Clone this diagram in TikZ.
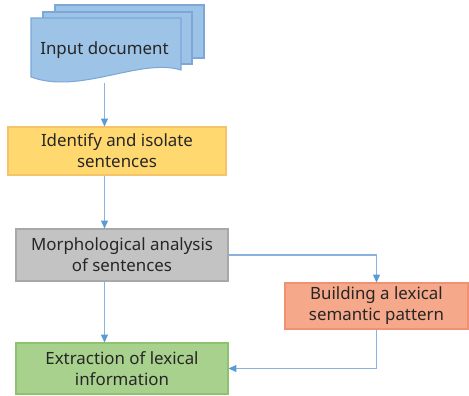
\documentclass[tikz,border=0pt]{standalone}
\usepackage{fontspec}
\setmainfont{Noto Sans}
\usepackage{tikz}
\usetikzlibrary{
	arrows.meta,
	calc,
	positioning,
}
\definecolor{docfill}{HTML}{9DC3E6}
\definecolor{docline}{HTML}{7BA7D9}
\definecolor{isofill}{HTML}{FFD870}
\definecolor{isoline}{HTML}{F5C36A}
\definecolor{morphfill}{HTML}{C3C3C3}
\definecolor{morphline}{HTML}{A8A8A8}
\definecolor{patfill}{HTML}{F6A88A}
\definecolor{patline}{HTML}{F09272}
\definecolor{extfill}{HTML}{A9D18E}
\definecolor{extline}{HTML}{8DC26F}
\definecolor{linkblue}{HTML}{8AB2DC}
\definecolor{tipblue}{HTML}{5B9BD5}
\tikzset{flow box/.style={
	draw,
	rectangle,
	align=center,
	inner sep=0mm,
	line width=0.6pt,
	font=\fontsize{9.6}{12}\selectfont,
	text=black!85,
}}
\tikzset{page/.style={
	fill=docfill,
	draw=docline,
	line width=0.6pt,
}}
\tikzset{flow line/.style={
	draw=linkblue,
	line width=0.6pt,
	-{Triangle[length=4.5pt,width=4pt,color=tipblue]},
}}

\begin{document}
\begin{tikzpicture}

\useasboundingbox (0,0) rectangle (9.38,-7.9);

% pages of the input document
\path[page] (1.10,-0.10) rectangle (4.08,-1.16);
\path[page] (0.86,-0.24) rectangle (3.84,-1.28);
\path[page] (0.62,-0.36) -- (3.62,-0.36) -- (3.62,-1.40)
	.. controls (2.8,-1.15) and (1.6,-1.9) .. (0.62,-1.54) -- cycle;

\node[flow box, draw=none, minimum width=3cm, minimum height=1.28cm](doc)	at (2.09,-1.0) {Input document};

\node[flow box, fill=isofill, draw=isoline, minimum width=4.36cm, minimum height=0.96cm](isolate)	at (2.34,-3.02) {Identify and isolate\\sentences};
\node[flow box, fill=morphfill, draw=morphline, minimum width=4.24cm, minimum height=1.04cm](morph)	at (2.44,-5.10) {Morphological analysis\\of sentences};
\node[flow box, fill=patfill, draw=patline, minimum width=3.66cm, minimum height=0.92cm](pattern)	at (7.53,-6.12) {Building a lexical\\semantic pattern};
\node[flow box, fill=extfill, draw=extline, minimum width=4.24cm, minimum height=1.02cm](extract)	at (2.44,-7.37) {Extraction of lexical\\information};

% doc -> isolate
\draw[flow line] (doc.south) -- (isolate.north -| doc.south);

% isolate -> morph
\draw[flow line] (isolate.south -| doc.south) -- (morph.north -| doc.south);

% morph -> extract
\draw[flow line] (morph.south -| doc.south) -- (extract.north -| doc.south);

% morph -> pattern
\draw[flow line] (morph.east) -| (pattern.north);

% pattern -> extract
\draw[flow line] (pattern.south) |- (extract.east);

\end{tikzpicture}
\end{document}
